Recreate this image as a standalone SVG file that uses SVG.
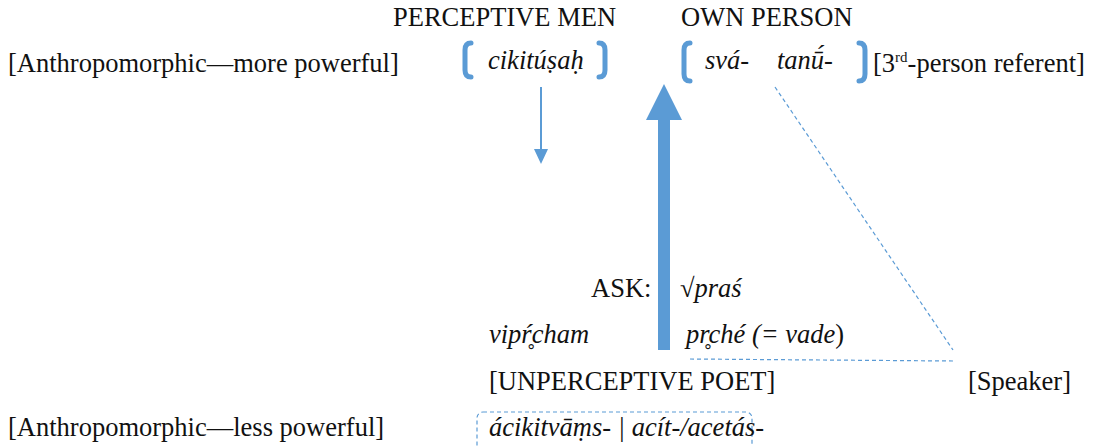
<svg xmlns="http://www.w3.org/2000/svg" width="1096" height="446" viewBox="0 0 1096 446">
  <style>
    text { font-family: "Liberation Serif", "Times New Roman", serif; font-size: 26.5px; fill: #111; }
    .it { font-style: italic; }
    .brk { fill: none; stroke: #5b9bd5; stroke-width: 5; stroke-linecap: round; }
    .dash { fill: none; stroke: #5b9bd5; stroke-width: 1.2; stroke-dasharray: 4 3; }
    .blue { fill: #5b9bd5; }
  </style>

  <!-- upper row: agents and referents -->
  <g id="perceptive-men">
    <text x="393" y="26">PERCEPTIVE MEN</text>
    <path class="brk" d="M471 43 Q465 43 465 50 L465 70 Q465 77 471 77"/>
    <text class="it" x="488" y="69">cikitúṣaḥ</text>
    <path class="brk" d="M599 43 Q605 43 605 50 L605 70 Q605 77 599 77"/>
  </g>

  <g id="own-person">
    <text x="681" y="26">OWN PERSON</text>
    <path class="brk" d="M690 43 Q684 43 684 50 L684 74 Q684 81 690 81"/>
    <text class="it" x="705" y="69">svá-</text>
    <text class="it" x="777" y="69">tanū́-</text>
    <path class="brk" d="M859 43 Q865 43 865 50 L865 74 Q865 81 859 81"/>
  </g>

  <g id="label-more-powerful">
    <text x="8" y="72">[Anthropomorphic—more powerful]</text>
  </g>

  <g id="label-third-person">
    <text x="873" y="72">[3<tspan font-size="15" dy="-10">rd</tspan><tspan dy="10">-person referent]</tspan></text>
  </g>

  <!-- middle: the asking -->
  <g id="ask">
    <text x="591" y="297">ASK:</text>
    <text x="680" y="297">√<tspan class="it">praś</tspan></text>
  </g>

  <g id="forms">
    <text class="it" x="489" y="343">vipŕ̥cham</text>
    <text x="686" y="343"><tspan class="it">pr̥ché (= vade</tspan>)</text>
  </g>

  <!-- lower row -->
  <g id="unperceptive-poet">
    <text x="489" y="390">[UNPERCEPTIVE POET]</text>
  </g>

  <g id="speaker">
    <text x="968" y="390">[Speaker]</text>
  </g>

  <g id="label-less-powerful">
    <text x="8" y="436">[Anthropomorphic—less powerful]</text>
  </g>

  <g id="negated-forms">
    <rect class="dash" x="477" y="412" width="275" height="50" rx="6"/>
    <text class="it" x="489" y="436">ácikitvāṃs- | acít-/acetás-</text>
  </g>

  <!-- connectors -->
  <g id="connectors">
    <line x1="541" y1="87" x2="541" y2="150" stroke="#5b9bd5" stroke-width="2"/>
    <polygon class="blue" points="534,149 548,149 541,164"/>
    <rect class="blue" x="658" y="118" width="12" height="232"/>
    <polygon class="blue" points="664,84 682,120 646,120"/>
    <line class="dash" x1="775" y1="87" x2="953" y2="350"/>
    <line class="dash" x1="690" y1="359" x2="953" y2="361"/>
  </g>
</svg>
